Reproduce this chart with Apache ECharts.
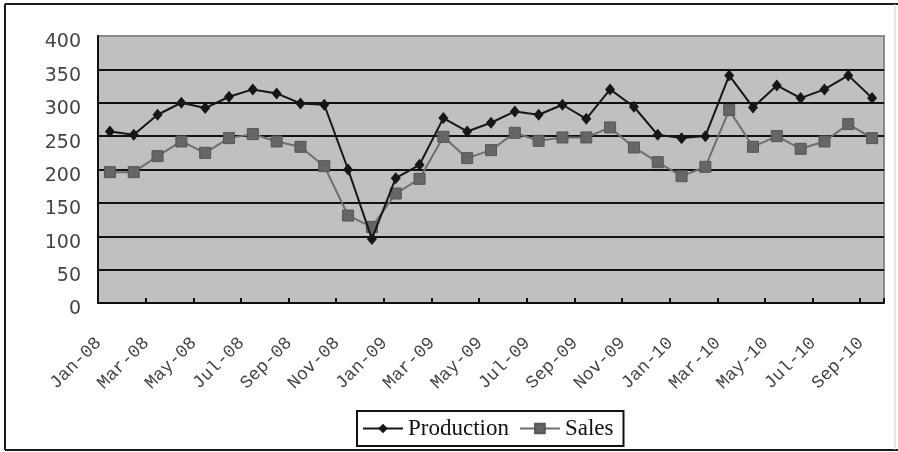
<!DOCTYPE html>
<html>
<head>
<meta charset="utf-8">
<script src="https://cdn.jsdelivr.net/npm/echarts@6/dist/echarts.min.js"></script>
<style>
  html, body { margin: 0; padding: 0; background: #fff; }
  #chart { width: 898px; height: 452px; }
</style>
</head>
<body>
<div id="chart"></div>
<script>
// Monthly categories, Jan-08 through Sep-10
const months = [
  'Jan-08','Feb-08','Mar-08','Apr-08','May-08','Jun-08','Jul-08','Aug-08','Sep-08','Oct-08','Nov-08','Dec-08',
  'Jan-09','Feb-09','Mar-09','Apr-09','May-09','Jun-09','Jul-09','Aug-09','Sep-09','Oct-09','Nov-09','Dec-09',
  'Jan-10','Feb-10','Mar-10','Apr-10','May-10','Jun-10','Jul-10','Aug-10','Sep-10'
];

const production = [
  257, 252, 282, 300, 292, 309, 320, 314, 299, 297, 200, 96,
  187, 207, 277, 257, 270, 287, 282, 297, 276, 320, 294, 252,
  247, 250, 341, 293, 326, 307, 320, 341, 307
];

const sales = [
  196, 196, 220, 242, 225, 247, 253, 242, 234, 205, 131, 114,
  164, 186, 249, 217, 229, 255, 243, 248, 248, 263, 233, 211,
  190, 204, 289, 234, 250, 231, 242, 268, 247
];

const yTicks = { min: 0, max: 400, interval: 50 };

const chart = echarts.init(document.getElementById('chart'), null, { renderer: 'canvas' });

chart.setOption({
  backgroundColor: '#ffffff',
  animation: false,
  graphic: [
    { type: 'line', shape: { x1: 5, y1: 4, x2: 898, y2: 4 }, style: { stroke: '#1a1a1a', lineWidth: 2 } },
    { type: 'line', shape: { x1: 5, y1: 4, x2: 5, y2: 450 }, style: { stroke: '#1a1a1a', lineWidth: 2 } },
    { type: 'line', shape: { x1: 5, y1: 450, x2: 898, y2: 450 }, style: { stroke: '#1a1a1a', lineWidth: 2 } },
    { type: 'line', shape: { x1: 895, y1: 4, x2: 895, y2: 450 }, style: { stroke: '#d0d0d0', lineWidth: 1 } }
  ],
  grid: {
    left: 98, right: 14, top: 36, bottom: 149,
    show: true,
    backgroundColor: '#c0c0c0',
    borderColor: '#8a8a8a',
    borderWidth: 2
  },
  legend: {
    left: 357, top: 411,
    padding: [6, 10, 6, 5],
    borderColor: '#111',
    borderWidth: 2,
    itemWidth: 40,
    itemHeight: 12,
    itemGap: 10,
    textStyle: { fontFamily: 'Liberation Serif', fontSize: 23, color: '#111' },
    data: ['Production', 'Sales']
  },
  xAxis: {
    type: 'category',
    data: months,
    boundaryGap: true,
    axisLine: { show: true, lineStyle: { color: '#111', width: 2 } },
    axisTick: { show: true, inside: true, length: 5, interval: 1, lineStyle: { color: '#111', width: 2 } },
    axisLabel: {
      interval: 1,
      rotate: 45,
      margin: 26,
      padding: [0, 16, 0, 0],
      fontFamily: 'Liberation Mono',
      fontSize: 18,
      color: '#444'
    },
    splitLine: { show: false }
  },
  yAxis: {
    type: 'value',
    min: yTicks.min,
    max: yTicks.max,
    interval: yTicks.interval,
    axisLine: { show: true, lineStyle: { color: '#111', width: 2 } },
    axisTick: { show: false },
    axisLabel: {
      margin: 17,
      verticalAlign: 'top',
      lineHeight: 13,
      fontFamily: 'DejaVu Sans',
      fontSize: 19,
      color: '#444'
    },
    splitLine: { show: true, showMinLine: false, showMaxLine: false, lineStyle: { color: '#111', width: 2 } }
  },
  series: [
    {
      name: 'Production',
      type: 'line',
      data: production,
      symbol: 'diamond',
      symbolSize: [10, 12],
      showAllSymbol: true,
      lineStyle: { color: '#161616', width: 2 },
      itemStyle: { color: '#161616', borderWidth: 0 },
      z: 3
    },
    {
      name: 'Sales',
      type: 'line',
      data: sales,
      symbol: 'rect',
      symbolSize: 11,
      showAllSymbol: true,
      lineStyle: { color: '#6e6e6e', width: 2 },
      itemStyle: { color: '#666666', borderColor: '#555', borderWidth: 1 },
      z: 2
    }
  ]
});
</script>
</body>
</html>
